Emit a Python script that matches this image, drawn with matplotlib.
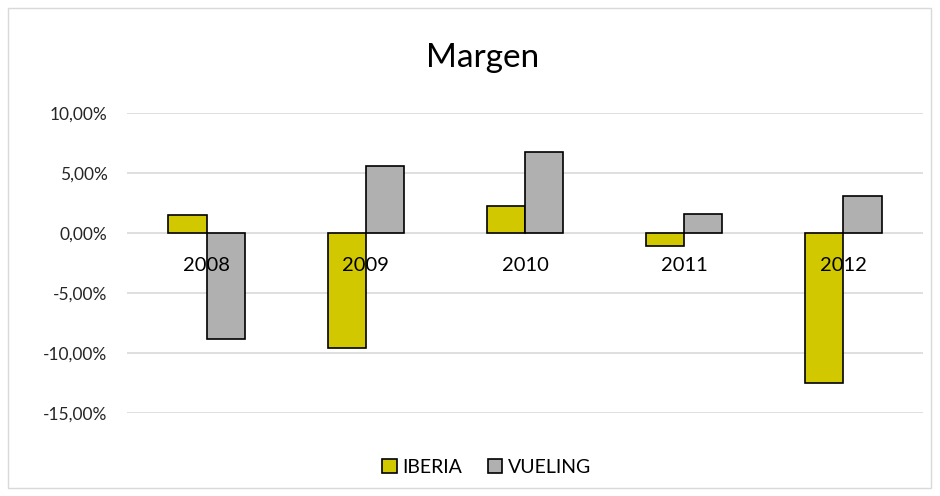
import numpy as np
import matplotlib
matplotlib.use("Agg")
import matplotlib.pyplot as plt
from matplotlib.ticker import FuncFormatter
from matplotlib.patches import Rectangle

years = ["2008", "2009", "2010", "2011", "2012"]
iberia = [1.5, -9.58, 2.28, -1.08, -12.5]
vueling = [-8.86, 5.58, 6.72, 1.58, 3.06]

plt.rcParams["font.family"] = ["Lato", "DejaVu Sans"]

fig = plt.figure(figsize=(9.4, 4.96), dpi=100)
ax = fig.add_axes([0.135, 0.167, 0.847, 0.605])

x = np.arange(len(years))
w = 0.24
ax.bar(x - w / 2, iberia, w, color="#D2C800", edgecolor="black", linewidth=1.2,
       label="IBERIA", zorder=3)
ax.bar(x + w / 2, vueling, w, color="#B0B0B0", edgecolor="black", linewidth=1.2,
       label="VUELING", zorder=3)

ax.set_xlim(-0.5, len(years) - 0.5)
ax.set_ylim(-15, 10)
ax.set_yticks(np.arange(-15, 11, 5))
ax.yaxis.set_major_formatter(FuncFormatter(lambda v, p: f"{v:.2f}%".replace(".", ",")))
ax.tick_params(axis="y", length=0, labelsize=12.5, pad=14, colors="#262626")
ax.set_xticks([])
for s in ax.spines.values():
    s.set_visible(False)
ax.grid(axis="y", color="#D9D9D9", linewidth=1.2, zorder=0)

for i, yr in enumerate(years):
    ax.annotate(yr, (i, 0), xytext=(0, -23), textcoords="offset points",
                ha="center", va="center", fontsize=14.5, color="black", zorder=5)

fig.text(0.513, 0.883, "Margen", fontsize=24, ha="center", va="center")

leg = fig.legend(loc="center", bbox_to_anchor=(0.518, 0.058), ncol=2, frameon=False,
                 fontsize=14, handlelength=0.75, handleheight=0.75, handletextpad=0.3,
                 columnspacing=1.3)

fig.patches.append(Rectangle((8 / 940, 8 / 496), 923 / 940, 480 / 496, transform=fig.transFigure,
                             fill=False, edgecolor="#D9D9D9", linewidth=1.0))

fig.savefig("out.png", dpi=100)
